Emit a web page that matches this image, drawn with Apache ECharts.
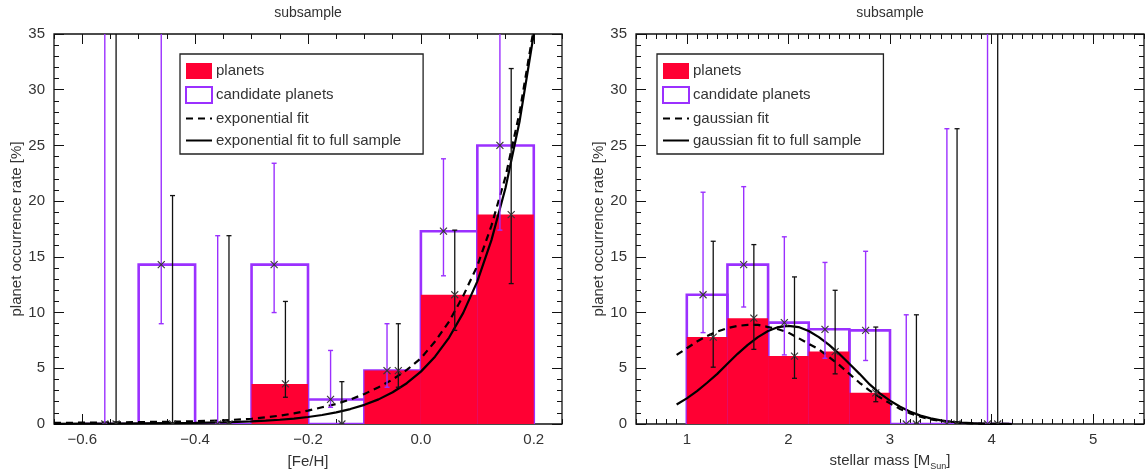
<!DOCTYPE html>
<html><head><meta charset="utf-8">
<script src="https://cdn.jsdelivr.net/npm/echarts@6/dist/echarts.min.js"></script>
<style>html,body{margin:0;padding:0;background:#fff}#c{width:1146px;height:471px}</style>
</head><body><div id="c"></div>
<script>
// ---------- LEFT PANEL: metallicity ----------
const feBinLeft = [-0.6, -0.5, -0.4, -0.3, -0.2, -0.1, 0.0, 0.1];
const feBinWidth = 0.1;
const feCand = [0, 14.3, 0, 14.3, 2.2, 4.8, 17.3, 25.0];
const fePlan = [0, 0, 0, 3.6, 0, 4.8, 11.6, 18.8];
const feCandX = [-0.56, -0.46, -0.36, -0.26, -0.16, -0.06, 0.04, 0.14];
const feCandLo = [0, 9.0, 0, 10.0, 1.5, 3.3, 13.3, 17.4];
const feCandHi = [60, 60, 16.9, 23.4, 6.6, 9.0, 23.8, 60];
const fePlanX = [-0.54, -0.44, -0.34, -0.24, -0.14, -0.04, 0.06, 0.16];
const fePlanLo = [0, 0, 0, 2.4, 0, 3.3, 8.4, 12.6];
const fePlanHi = [60, 20.5, 16.9, 11.0, 3.8, 9.0, 17.4, 31.9];
const feCurveX = [-0.65, -0.6, -0.55, -0.5, -0.45, -0.4, -0.35, -0.3, -0.275, -0.25, -0.225, -0.2, -0.175, -0.15, -0.125, -0.1, -0.075, -0.05, -0.025, 0.0, 0.025, 0.05, 0.075, 0.1, 0.125, 0.15, 0.175, 0.2];
const feFit = [0.1, 0.12, 0.14, 0.17, 0.2, 0.25, 0.33, 0.47, 0.6, 0.75, 0.95, 1.2, 1.5, 1.8, 2.2, 2.7, 3.3, 4.0, 4.85, 5.9, 7.4, 9.2, 11.5, 14.2, 17.8, 22.2, 28.0, 35.5];
const feFitFull = [0.02, 0.03, 0.04, 0.06, 0.08, 0.1, 0.15, 0.23, 0.3, 0.38, 0.49, 0.63, 0.81, 1.04, 1.34, 1.72, 2.21, 2.85, 3.66, 4.7, 6.04, 7.76, 9.97, 12.8, 16.5, 21.2, 27.2, 35.0];
const feTicks = [-0.6, -0.4, -0.2, 0.0, 0.2];

// ---------- RIGHT PANEL: stellar mass ----------
const mBinLeft = [1.0, 1.4, 1.8, 2.2, 2.6, 3.0, 3.4, 3.8];
const mBinWidth = 0.4;
const mCand = [11.6, 14.3, 9.1, 8.5, 8.4, 0, 0, 0];
const mPlan = [7.8, 9.5, 6.1, 6.5, 2.8, 0, 0, 0];
const mCandX = [1.16, 1.56, 1.96, 2.36, 2.76, 3.16, 3.56, 3.96];
const mCandLo = [8.2, 10.5, 6.2, 5.9, 5.7, 0, 0, 0];
const mCandHi = [20.8, 21.3, 16.8, 14.5, 15.5, 9.8, 26.5, 60];
const mPlanX = [1.26, 1.66, 2.06, 2.46, 2.86, 3.26, 3.66, 4.06];
const mPlanLo = [5.1, 6.7, 4.1, 4.5, 2.0, 0, 0, 0];
const mPlanHi = [16.4, 16.1, 13.2, 12.0, 8.7, 9.8, 26.5, 60];
const mCurveX = [0.9, 1.0, 1.1, 1.2, 1.3, 1.4, 1.5, 1.6, 1.7, 1.8, 1.9, 2.0, 2.1, 2.2, 2.3, 2.4, 2.5, 2.6, 2.7, 2.8, 2.9, 3.0, 3.1, 3.2, 3.3, 3.4, 3.5, 3.6, 3.7, 3.8, 3.9, 4.0, 4.1, 4.2];
const mFit = [6.2, 6.8, 7.4, 7.9, 8.3, 8.6, 8.8, 8.9, 8.9, 8.7, 8.5, 8.2, 7.7, 7.2, 6.7, 6.0, 5.3, 4.5, 3.7, 3.0, 2.4, 1.85, 1.35, 0.95, 0.65, 0.42, 0.27, 0.17, 0.1, 0.06, 0.03, 0.02, 0.01, 0.0];
const mFitFull = [1.75, 2.3, 2.95, 3.7, 4.5, 5.4, 6.3, 7.1, 7.8, 8.35, 8.7, 8.8, 8.7, 8.35, 7.8, 7.1, 6.3, 5.4, 4.5, 3.55, 2.75, 2.1, 1.55, 1.1, 0.75, 0.5, 0.32, 0.2, 0.12, 0.07, 0.04, 0.02, 0.01, 0.0];
const mTicks = [1, 2, 3, 4, 5];

const yMajor = 5, yMinor = 1, yMax = 35;

// ---------- styling ----------
const RED = '#ff0033', PURPLE = '#9b30ff', INK = '#333', FONT = 'Liberation Sans';

const chart = echarts.init(document.getElementById('c'));

function zip2(a, b) { return a.map((v, i) => [v, b[i]]); }
function bins(lefts, w, vals) { return lefts.map((l, i) => [l, l + w, vals[i]]); }
function errs(xs, vals, lo, hi) { return xs.map((x, i) => [x, vals[i], lo[i], hi[i]]); }

function outlineRender(params, api) {
  const x0 = api.value(0), x1 = api.value(1), y = api.value(2);
  const a = api.coord([x0, 0]), b = api.coord([x0, y]), c = api.coord([x1, y]), d = api.coord([x1, 0]);
  return { type: 'polyline', shape: { points: [a, b, c, d, a] },
    style: { stroke: PURPLE, lineWidth: 2.6, fill: null, lineJoin: 'miter' } };
}
function fillRender(params, api) {
  const x0 = api.value(0), x1 = api.value(1), y = api.value(2);
  const p0 = api.coord([x0, 0]), p1 = api.coord([x1, y]);
  return { type: 'rect', shape: { x: p0[0], y: p1[1], width: p1[0] - p0[0], height: p0[1] - p1[1] },
    style: { fill: RED } };
}
function errRender(color, lw) {
  return function (params, api) {
    const x = api.value(0), v = api.value(1), lo = api.value(2), hi = api.value(3);
    const pv = api.coord([x, v]), pl = api.coord([x, lo]), ph = api.coord([x, hi]);
    const cw = 2.5, m = 3.5;
    const st = { stroke: color, lineWidth: lw };
    const mk = { stroke: INK, lineWidth: 1.1 };
    return { type: 'group', children: [
      { type: 'line', shape: { x1: pl[0], y1: pl[1], x2: ph[0], y2: ph[1] }, style: st },
      { type: 'line', shape: { x1: pl[0] - cw, y1: pl[1], x2: pl[0] + cw, y2: pl[1] }, style: st },
      { type: 'line', shape: { x1: ph[0] - cw, y1: ph[1], x2: ph[0] + cw, y2: ph[1] }, style: st },
      { type: 'line', shape: { x1: pv[0] - m, y1: pv[1] - m, x2: pv[0] + m, y2: pv[1] + m }, style: mk },
      { type: 'line', shape: { x1: pv[0] - m, y1: pv[1] + m, x2: pv[0] + m, y2: pv[1] - m }, style: mk }
    ] };
  };
}

const tickLine = { color: '#111', width: 1 };
const labelStyle = { fontSize: 15, color: INK, fontFamily: FONT };
const nameStyle = { fontSize: 15, color: INK, fontFamily: FONT,
  rich: { sub: { fontSize: 9, color: INK, fontFamily: FONT, verticalAlign: 'bottom', padding: [0, 0, -3, 0] } } };

function mkX(gi, min, max, minorInt, majorVals, fmt, name, gap) {
  const base = { gridIndex: gi, type: 'value', min: min, max: max,
    axisLine: { show: false, onZero: false }, splitLine: { show: false } };
  return [
    Object.assign({}, base, { position: 'bottom', interval: minorInt,
      axisTick: { inside: true, length: 5, lineStyle: tickLine }, axisLabel: { show: false } }),
    Object.assign({}, base, { position: 'bottom',
      axisTick: { inside: true, length: 10, customValues: majorVals, lineStyle: tickLine },
      axisLabel: Object.assign({ customValues: majorVals, formatter: fmt, margin: 8 }, labelStyle),
      name: name, nameLocation: 'middle', nameGap: gap, nameTextStyle: nameStyle }),
    Object.assign({}, base, { position: 'top', interval: minorInt,
      axisTick: { inside: true, length: 5, lineStyle: tickLine }, axisLabel: { show: false } }),
    Object.assign({}, base, { position: 'top',
      axisTick: { inside: true, length: 10, customValues: majorVals, lineStyle: tickLine }, axisLabel: { show: false } })
  ];
}
function mkY(gi, name, gap) {
  const base = { gridIndex: gi, type: 'value', min: 0, max: yMax,
    axisLine: { show: false, onZero: false }, splitLine: { show: false } };
  return [
    Object.assign({}, base, { position: 'left', interval: yMajor,
      axisTick: { inside: true, length: 10, lineStyle: tickLine },
      axisLabel: Object.assign({ margin: 9 }, labelStyle),
      name: name, nameLocation: 'middle', nameGap: gap, nameTextStyle: nameStyle }),
    Object.assign({}, base, { position: 'left', interval: yMinor,
      axisTick: { inside: true, length: 5, lineStyle: tickLine }, axisLabel: { show: false } }),
    Object.assign({}, base, { position: 'right', interval: yMajor,
      axisTick: { inside: true, length: 10, lineStyle: tickLine }, axisLabel: { show: false } }),
    Object.assign({}, base, { position: 'right', interval: yMinor,
      axisTick: { inside: true, length: 5, lineStyle: tickLine }, axisLabel: { show: false } })
  ];
}

const feFmt = v => (Math.abs(v) < 1e-9 ? '0.0' : v.toFixed(1).replace('-', '\u2212'));
const mFmt = v => String(Math.round(v));

const xAxes = mkX(0, -0.65, 0.25, 0.05, feTicks, feFmt, '[Fe/H]', 30)
  .concat(mkX(1, 0.5, 5.5, 0.1, mTicks, mFmt, 'stellar mass [M{sub|Sun}]', 29));
const yAxes = mkY(0, 'planet occurrence rate [%]', 29).concat(mkY(1, 'planet occurrence rate [%]', 29));

function panelSeries(xi, yi, binLeft, w, cand, plan, cx, cv, clo, chi, px, pv, plo, phi, curveX, fit, fitFull, fitName, fullName) {
  return [
    { name: 'candidate planets', type: 'custom', xAxisIndex: xi, yAxisIndex: yi, clip: true, z: 2,
      renderItem: outlineRender, data: bins(binLeft, w, cand),
      itemStyle: { color: '#fff', borderColor: PURPLE, borderWidth: 2 } },
    { name: 'planets', type: 'custom', xAxisIndex: xi, yAxisIndex: yi, clip: true, z: 3,
      renderItem: fillRender, data: bins(binLeft, w, plan), itemStyle: { color: RED } },
    { name: fitName, type: 'line', xAxisIndex: xi, yAxisIndex: yi, clip: true, z: 4, symbol: 'none',
      data: zip2(curveX, fit), lineStyle: { color: '#000', width: 2.2, type: [7, 5] }, itemStyle: { color: '#000' } },
    { name: fullName, type: 'line', xAxisIndex: xi, yAxisIndex: yi, clip: true, z: 4, symbol: 'none',
      data: zip2(curveX, fitFull), lineStyle: { color: '#000', width: 2.2 }, itemStyle: { color: '#000' } },
    { name: 'err-cand-' + xi, type: 'custom', xAxisIndex: xi, yAxisIndex: yi, clip: true, z: 5,
      renderItem: errRender(PURPLE, 1.4), data: errs(cx, cv, clo, chi) },
    { name: 'err-plan-' + xi, type: 'custom', xAxisIndex: xi, yAxisIndex: yi, clip: true, z: 6,
      renderItem: errRender('#111', 1.3), data: errs(px, pv, plo, phi) }
  ];
}

const series = panelSeries(0, 0, feBinLeft, feBinWidth, feCand, fePlan, feCandX, feCand, feCandLo, feCandHi,
    fePlanX, fePlan, fePlanLo, fePlanHi, feCurveX, feFit, feFitFull, 'exponential fit', 'exponential fit to full sample')
  .concat(panelSeries(4, 4, mBinLeft, mBinWidth, mCand, mPlan, mCandX, mCand, mCandLo, mCandHi,
    mPlanX, mPlan, mPlanLo, mPlanHi, mCurveX, mFit, mFitFull, 'gaussian fit', 'gaussian fit to full sample'));

const hideSym = { opacity: 0, color: 'rgba(0,0,0,0)', borderWidth: 0 };
function mkLegend(left, names, padRight) {
  return { left: left, top: 54, orient: 'vertical', itemWidth: 26, itemHeight: 16, itemGap: 7,
    padding: [9, padRight, 6, 5], borderColor: '#222', borderWidth: 1.3, backgroundColor: '#fff',
    selectedMode: false, textStyle: { fontSize: 15, color: INK, fontFamily: FONT, padding: [0, 0, 0, -1] },
    data: [
      { name: 'planets', icon: 'rect', itemStyle: { color: RED } },
      { name: 'candidate planets', icon: 'rect', itemStyle: { color: '#fff', borderColor: PURPLE, borderWidth: 2 } },
      { name: names[0], itemStyle: hideSym }, { name: names[1], itemStyle: hideSym }
    ] };
}

chart.setOption({
  animation: false,
  backgroundColor: '#fff',
  textStyle: { fontFamily: FONT },
  grid: [
    { left: 54, right: 584, top: 34, bottom: 47, show: true, borderColor: '#111', borderWidth: 1.3, outerBoundsMode: 'none', containLabel: false },
    { left: 636, right: 2, top: 34, bottom: 47, show: true, borderColor: '#111', borderWidth: 1.3, outerBoundsMode: 'none', containLabel: false }
  ],
  graphic: [
    { type: 'text', x: 308, y: 6, style: { text: 'subsample', textAlign: 'center', fill: INK, font: '14px "Liberation Sans"' } },
    { type: 'text', x: 890, y: 6, style: { text: 'subsample', textAlign: 'center', fill: INK, font: '14px "Liberation Sans"' } }
  ],
  legend: [
    mkLegend(180, ['exponential fit', 'exponential fit to full sample'], 22),
    mkLegend(657, ['gaussian fit', 'gaussian fit to full sample'], 22)
  ],
  xAxis: xAxes,
  yAxis: yAxes,
  series: series
});
</script></body></html>
